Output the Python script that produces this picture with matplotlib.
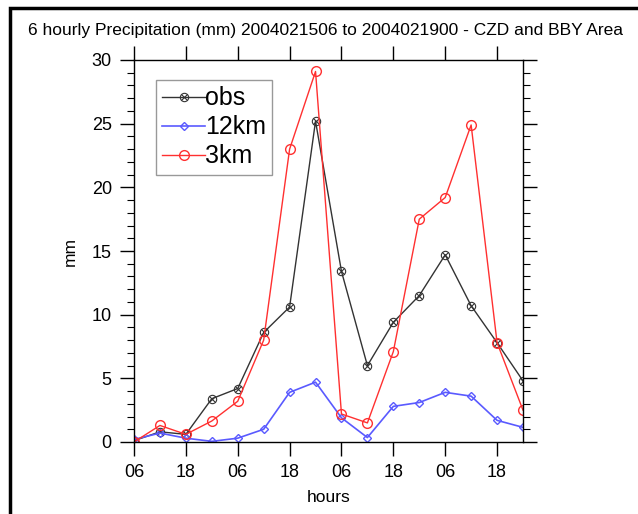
import numpy as np
import matplotlib.pyplot as plt
from matplotlib.patches import Rectangle
from matplotlib.ticker import MultipleLocator
from matplotlib.legend_handler import HandlerTuple

plt.rcParams['font.family'] = ['Liberation Sans', 'DejaVu Sans']

# 6-hourly steps from 2004021506 to 2004021900
hours = np.arange(16)
tick_pos = [0, 2, 4, 6, 8, 10, 12, 14]
tick_lab = ['06', '18', '06', '18', '06', '18', '06', '18']

obs = [0.1, 0.8, 0.6, 3.4, 4.2, 8.6, 10.6, 25.2, 13.4, 6.0, 9.4, 11.5, 14.7, 10.7, 7.8, 4.8]
km12 = [0.2, 0.7, 0.3, 0.05, 0.3, 1.0, 3.9, 4.7, 1.9, 0.35, 2.8, 3.1, 3.9, 3.6, 1.7, 1.15]
km3 = [0.0, 1.3, 0.6, 1.65, 3.2, 8.0, 23.0, 29.1, 2.2, 1.5, 7.1, 17.5, 19.2, 24.9, 7.8, 2.5]

fig = plt.figure(figsize=(6.38, 5.14), dpi=100)
ax = fig.add_axes([134/638, 72/514, 389/638, 382/514])

k = '#333333'
l1, = ax.plot(hours, obs, color=k, lw=1, marker='o', ms=6, mfc='none', mec=k, mew=0.8)
l1x, = ax.plot(hours, obs, ls='none', marker='x', ms=4, mec=k, mew=0.8)
l2, = ax.plot(hours, km12, color='#5a5aff', lw=1.2, marker='D', ms=4, mfc='none',
              mec='#5a5aff')
l3, = ax.plot(hours, km3, color='#ff3030', lw=1, marker='o', ms=7, mfc='none',
              mec='#ff3030')

ax.set_xlim(0, 15)
ax.set_ylim(0, 30)
ax.set_xticks(tick_pos)
ax.set_xticklabels(tick_lab)
ax.yaxis.set_major_locator(MultipleLocator(5))
ax.yaxis.set_minor_locator(MultipleLocator(1))
ax.tick_params(which='both', direction='out', top=True, right=True,
               labelsize=13, pad=6)
ax.tick_params(which='major', length=10, width=1)
ax.tick_params(which='minor', length=5, width=0.8)
for s in ax.spines.values():
    s.set_linewidth(1)

ax.set_xlabel('hours', fontsize=12.5, labelpad=6)
ax.set_ylabel('mm', fontsize=12.5, labelpad=10)

leg = ax.legend([(l1, l1x), l2, l3], ['obs', '12km', '3km'],
                handler_map={tuple: HandlerTuple(ndivide=1)},
                loc='upper left', bbox_to_anchor=(22/389, 1 - 20/382),
                fontsize=18, handlelength=1.7, handletextpad=0.0,
                labelspacing=0.2, borderpad=0.25, borderaxespad=0,
                fancybox=False, framealpha=1)
leg.get_frame().set_edgecolor('#999999')
leg.get_frame().set_linewidth(1)

fig.text(325/638, 1 - 30/514,
         '6 hourly Precipitation (mm) 2004021506 to 2004021900 - CZD and BBY Area',
         ha='center', va='center', fontsize=12.5)

fig.patches.append(Rectangle((10/638, -0.1), 1.2, 1.1 - 8/514, transform=fig.transFigure,
                             fill=False, ec='black', lw=2.5, figure=fig))

fig.savefig('out.png', dpi=100)
